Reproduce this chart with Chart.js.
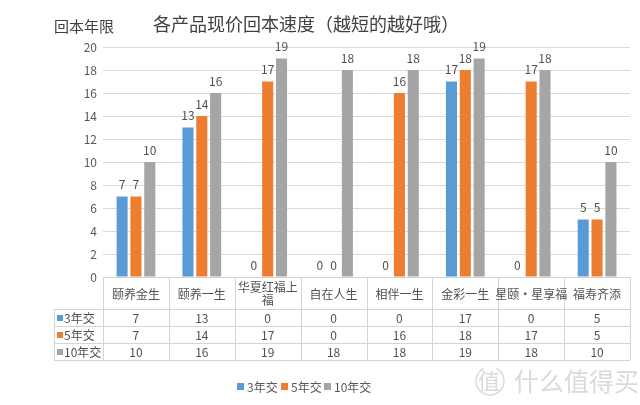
<!DOCTYPE html>
<html>
<head>
<meta charset="utf-8">
<script src="https://cdn.jsdelivr.net/npm/chart.js@4.4.1/dist/chart.umd.min.js"></script>
<style>
  html, body { margin: 0; padding: 0; background: #fff; }
  #wrap { width: 640px; height: 405px; position: relative; }
</style>
</head>
<body>
<div id="wrap"><canvas id="chart" width="640" height="405"></canvas></div>
<script>
const categories = ["颐养金生", "颐养一生", ["华夏红福上", "福"], "自在人生", "相伴一生", "金彩一生", "星颐·星享福", "福寿齐添"];
const seriesNames = ["3年交", "5年交", "10年交"];
const pay3 = [7, 13, 0, 0, 0, 17, 0, 5];
const pay5 = [7, 14, 17, 0, 16, 18, 17, 5];
const pay10 = [10, 16, 19, 18, 18, 19, 18, 10];
const colors = ["#5B9BD5", "#ED7D31", "#A5A5A5"];
const yTicks = { min: 0, max: 20, step: 2 };

const chartTitle = "各产品现价回本速度（越短的越好哦）";
const yTitle = "回本年限";
const FONT = "'Noto Sans CJK SC', 'Noto Sans', sans-serif";
const TEXT = "#505050";

// data labels above each bar (zeros too, like Excel)
const labelPlugin = {
    id: "barLabels",
    afterDatasetsDraw(chart) {
        const ctx = chart.ctx;
        ctx.save();
        ctx.font = "12px " + FONT;
        ctx.fillStyle = TEXT;
        ctx.textAlign = "center";
        ctx.textBaseline = "bottom";
        chart.data.datasets.forEach((ds, i) => {
            chart.getDatasetMeta(i).data.forEach((bar, j) => {
                ctx.fillText(String(ds.data[j]), bar.x, bar.y - 6);
            });
        });
        ctx.restore();
    }
};

// titles, data table, legend
const tablePlugin = {
    id: "dataTable",
    afterDraw(chart) {
        const ctx = chart.ctx;
        const area = chart.chartArea;
        const x = chart.scales.x;
        const n = categories.length;
        const colW = (area.right - area.left) / n;
        const tableLeft = 54;
        const rowLines = [area.bottom, 309, 326, 343, 360];
        const lineColor = "#D4D4D4";

        ctx.save();
        // titles
        ctx.fillStyle = "#404040";
        ctx.textBaseline = "middle";
        ctx.textAlign = "center";
        ctx.font = "18px " + FONT;
        ctx.fillText(chartTitle, 306, 24);
        ctx.textAlign = "left";
        ctx.font = "15px " + FONT;
        ctx.fillText(yTitle, 54, 26);

        // table lines
        ctx.strokeStyle = lineColor;
        ctx.lineWidth = 1;
        ctx.beginPath();
        rowLines.forEach((y, k) => {
            const left = k === 0 ? area.left : tableLeft;
            ctx.moveTo(left, y + 0.5);
            ctx.lineTo(area.right, y + 0.5);
        });
        for (let i = 0; i <= n; i++) {
            const xx = Math.round(area.left + i * colW) + 0.5;
            ctx.moveTo(xx, area.bottom);
            ctx.lineTo(xx, rowLines[4]);
        }
        ctx.moveTo(tableLeft + 0.5, rowLines[1]);
        ctx.lineTo(tableLeft + 0.5, rowLines[4]);
        ctx.stroke();

        // category labels
        ctx.fillStyle = TEXT;
        ctx.textAlign = "center";
        ctx.font = "12px " + FONT;
        categories.forEach((c, i) => {
            const cx = x.getPixelForValue(i);
            if (Array.isArray(c)) {
                ctx.fillText(c[0], cx, 287);
                ctx.fillText(c[1], cx, 300);
            } else {
                ctx.fillText(c, cx, 294);
            }
        });

        // series rows
        const rows = [pay3, pay5, pay10];
        rows.forEach((vals, r) => {
            const cy = (rowLines[r + 1] + rowLines[r + 2]) / 2 + 0.5;
            ctx.fillStyle = colors[r];
            ctx.fillRect(57, cy - 3, 6, 6);
            ctx.fillStyle = TEXT;
            ctx.textAlign = "left";
            ctx.fillText(seriesNames[r], 64, cy);
            ctx.textAlign = "center";
            vals.forEach((v, i) => {
                ctx.fillText(String(v), x.getPixelForValue(i), cy);
            });
        });

        // legend
        const legendX = [237, 281, 324];
        ctx.textAlign = "left";
        ctx.font = "12px " + FONT;
        seriesNames.forEach((name, i) => {
            ctx.fillStyle = colors[i];
            ctx.fillRect(legendX[i], 383, 7, 7);
            ctx.fillStyle = "#595959";
            ctx.fillText(name, legendX[i] + 10, 387);
        });

        // watermark
        ctx.fillStyle = "#DADADA";
        ctx.strokeStyle = "#DADADA";
        ctx.lineWidth = 1.5;
        ctx.beginPath();
        ctx.arc(490, 381, 14, -Math.PI * 0.35, Math.PI * 1.35);
        ctx.stroke();
        ctx.font = "22px " + FONT;
        ctx.textAlign = "center";
        ctx.fillText("值", 489, 381);
        ctx.textAlign = "left";
        ctx.font = "25px " + FONT;
        ctx.fillText("什么值得买", 514, 381);
        ctx.restore();
    }
};

new Chart(document.getElementById("chart"), {
    type: "bar",
    data: {
        labels: categories,
        datasets: [
            { label: seriesNames[0], data: pay3, backgroundColor: colors[0] },
            { label: seriesNames[1], data: pay5, backgroundColor: colors[1] },
            { label: seriesNames[2], data: pay10, backgroundColor: colors[2] }
        ]
    },
    options: {
        responsive: false,
        animation: false,
        devicePixelRatio: 1,
        layout: { padding: { left: 0, right: 10, top: 47, bottom: 128 } },
        datasets: { bar: { categoryPercentage: 0.63, barPercentage: 0.8 } },
        plugins: { legend: { display: false }, tooltip: { enabled: false } },
        scales: {
            x: { display: false },
            y: {
                min: yTicks.min,
                max: yTicks.max,
                ticks: { stepSize: yTicks.step, color: "#595959", font: { size: 12, family: FONT }, padding: 6 },
                grid: { color: "#D9D9D9", drawTicks: false },
                border: { display: false },
                afterFit(scale) { scale.width = 103; }
            }
        }
    },
    plugins: [labelPlugin, tablePlugin]
});
</script>
</body>
</html>
